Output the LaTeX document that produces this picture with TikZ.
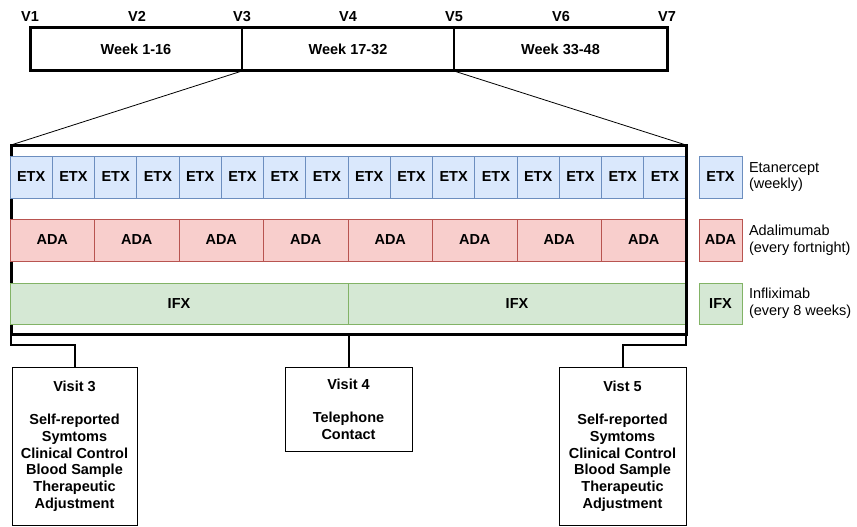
\documentclass[tikz,border=0pt]{standalone}
\usepackage{fontspec}
\setmainfont{Liberation Sans}
\definecolor{etxfill}{HTML}{DAE8FC}
\definecolor{etxline}{HTML}{6C8EBF}
\definecolor{adafill}{HTML}{F8CECC}
\definecolor{adaline}{HTML}{B85450}
\definecolor{ifxfill}{HTML}{D5E8D4}
\definecolor{ifxline}{HTML}{82B366}
\newcommand{\dgfont}{\fontsize{14.5}{16.7}\selectfont}
\newcommand{\dgbold}{\fontsize{14.5}{16.7}\selectfont\bfseries}
\begin{document}
\begin{tikzpicture}[x=1pt,y=-1pt,
  every node/.style={inner sep=0pt,outer sep=0pt,font=\dgfont},
  cell/.style={draw,line width=1pt,anchor=north west,font=\dgbold},
  etx/.style={cell,draw=etxline,fill=etxfill,minimum width=42.25pt,minimum height=42pt},
  ada/.style={cell,draw=adaline,fill=adafill,minimum width=84.5pt,minimum height=42pt},
  ifx/.style={cell,draw=ifxline,fill=ifxfill,minimum width=338pt,minimum height=41pt},
  legbox/.style={cell,minimum width=43pt,minimum height=42pt},
  legtext/.style={anchor=west,align=left,font=\dgfont},
  weekbox/.style={draw,line width=2pt,anchor=north west,minimum width=212pt,minimum height=43pt,font=\dgbold},
  vlabel/.style={anchor=base,font=\dgbold},
  visitbox/.style={draw,line width=1pt,anchor=north west,align=center,font=\dgbold},
  zoomline/.style={line width=0.8pt},
  link/.style={line width=2pt}
]
\useasboundingbox (0,0) rectangle (857,527);

% top timeline
\node[weekbox] (w1) at (30,28) {Week 1-16};
\node[weekbox] (w2) at (242,28) {Week 17-32};
\node[weekbox,minimum width=213pt] (w3) at (454,28) {Week 33-48};
\draw[line width=3pt] (w1.north west) rectangle (w3.south east);

\node[vlabel] (v1) at (30,21.5) {V1};
\node[vlabel] (v2) at (137,21.5) {V2};
\node[vlabel] (v3) at (242,21.5) {V3};
\node[vlabel] (v4) at (348,21.5) {V4};
\node[vlabel] (v5) at (454,21.5) {V5};
\node[vlabel] (v6) at (561,21.5) {V6};
\node[vlabel] (v7) at (667,21.5) {V7};

% zoom frame
\node[draw,line width=3pt,anchor=north west,minimum width=675pt,minimum height=189pt] (frame) at (11,145) {};
\draw[zoomline] (w2.south west) -- (frame.north west);
\draw[zoomline] (w2.south east) -- (frame.north east);

% treatment rows
\foreach \i in {1,...,16} {
  \node[etx] (e\i) at ({10+(\i-1)*42.25},156) {ETX};
}
\foreach \i in {1,...,8} {
  \node[ada] (a\i) at ({10+(\i-1)*84.5},219) {ADA};
}
\foreach \i in {1,2} {
  \node[ifx] (f\i) at ({10+(\i-1)*338},283) {IFX};
}
\draw[line width=3pt] (frame.north east) -- (frame.south east);

% legend
\node[legbox,draw=etxline,fill=etxfill] (lgE) at (699,156) {ETX};
\node[legbox,draw=adaline,fill=adafill] (lgA) at (699,219) {ADA};
\node[legbox,draw=ifxline,fill=ifxfill,minimum height=41pt] (lgI) at (699,283) {IFX};
\node[legtext] (tE) at ([xshift=7pt]lgE.east) {Etanercept\\(weekly)};
\node[legtext] (tA) at ([xshift=7pt]lgA.east) {Adalimumab\\(every fortnight)};
\node[legtext] (tI) at ([xshift=7pt]lgI.east) {Infliximab\\(every 8 weeks)};

% visit boxes
\node[visitbox,minimum width=125pt,minimum height=158pt] (visit3) at (12,367)
  {Visit 3\\[16.7pt]Self-reported\\Symtoms\\Clinical Control\\Blood Sample\\Therapeutic\\Adjustment};
\node[visitbox,minimum width=127pt,minimum height=84pt] (visit4) at (285,367)
  {Visit 4\\[16.7pt]Telephone\\Contact};
\node[visitbox,minimum width=127pt,minimum height=158pt] (visit5) at (559,367)
  {Vist 5\\[16.7pt]Self-reported\\Symtoms\\Clinical Control\\Blood Sample\\Therapeutic\\Adjustment};

\draw[link] (frame.south west) -- ++(0,11) -| (visit3.north);
\draw[link] (frame.south) -- (visit4.north);
\draw[link] (frame.south east) -- ++(0,11) -| (visit5.north);
\end{tikzpicture}
\end{document}
